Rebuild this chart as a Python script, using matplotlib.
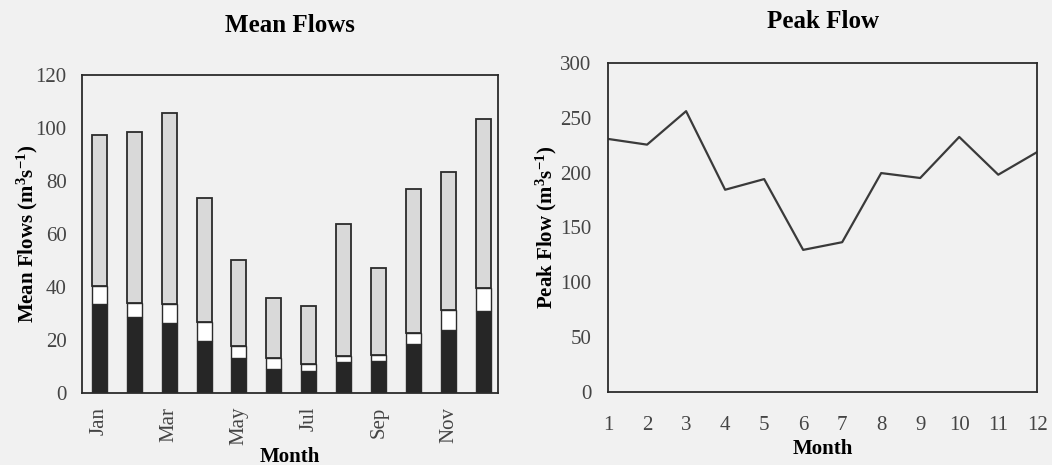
import matplotlib
matplotlib.use("Agg")
import matplotlib.pyplot as plt
import numpy as np

plt.rcParams["font.family"] = ["Liberation Serif", "DejaVu Serif"]
plt.rcParams["mathtext.default"] = "regular"

# 月均流量（三段堆叠）
months = ["Jan", "Feb", "Mar", "Apr", "May", "Jun",
          "Jul", "Aug", "Sep", "Oct", "Nov", "Dec"]
base_flow = [33.4, 28.7, 26.2, 19.5, 13.2, 9.2, 8.3, 11.7, 12.1, 18.4, 23.7, 31.0]
mid_top = [40.3, 33.8, 33.4, 26.6, 17.8, 13.2, 11.1, 13.9, 14.2, 22.7, 31.2, 39.7]
total_flow = [97.3, 98.4, 105.5, 73.4, 50.1, 35.9, 32.7, 63.7, 47.2, 77.0, 83.5, 103.3]

# 峰值流量
peak_month = [1, 2, 3, 4, 5, 6, 7, 8, 9, 10, 11, 12]
peak_flow = [230.6, 225.4, 255.9, 184.3, 194.0, 129.5, 136.5, 199.5, 195.0, 232.4, 198.0, 218.7]

bg = "#f1f1f1"
edge = "#2b2b2b"
tick_col = "#444444"

fig = plt.figure(figsize=(10.52, 4.65), dpi=100, facecolor=bg)

# ---- 左图：Mean Flows ----
ax1 = fig.add_axes([0.078, 0.155, 0.395, 0.684], facecolor=bg)
x = np.arange(len(months))
base = np.array(base_flow)
mid = np.array(mid_top) - base
top = np.array(total_flow) - np.array(mid_top)
w = 0.43
ax1.bar(x, base, width=w, color="#262626", edgecolor=edge, linewidth=1.0)
ax1.bar(x, mid, width=w, bottom=base, color="white", edgecolor=edge, linewidth=1.0)
ax1.bar(x, top, width=w, bottom=np.array(mid_top), color="#d9d9d9",
        edgecolor=edge, linewidth=1.3)
ax1.set_xlim(-0.49, 11.4)
ax1.set_ylim(0, 120)
ax1.set_yticks(range(0, 121, 20))
ax1.set_xticks(x[::2])
ax1.set_xticklabels(months[::2], rotation=90)
ax1.set_title("Mean Flows", fontsize=18, fontweight="bold", pad=31)
ax1.set_xlabel("Month", fontsize=15, fontweight="bold", labelpad=1)
ax1.set_ylabel("Mean Flows (m$^3$s$^{-1}$)", fontsize=15, fontweight="bold", labelpad=-3)
ax1.tick_params(axis="y", length=0, labelsize=15, colors=tick_col, pad=11)
ax1.tick_params(axis="x", length=0, labelsize=15, colors=tick_col, pad=10)

# ---- 右图：Peak Flow ----
ax2 = fig.add_axes([0.578, 0.157, 0.408, 0.708], facecolor=bg)
ax2.plot(peak_month, peak_flow, color="#3a3a3a", linewidth=1.6)
ax2.set_xlim(1, 12)
ax2.set_ylim(0, 300)
ax2.set_yticks(range(0, 301, 50))
ax2.set_xticks(peak_month)
ax2.set_title("Peak Flow", fontsize=18, fontweight="bold", pad=25)
ax2.set_xlabel("Month", fontsize=15, fontweight="bold", labelpad=3)
ax2.set_ylabel("Peak Flow (m$^3$s$^{-1}$)", fontsize=15, fontweight="bold", labelpad=1)
ax2.tick_params(axis="y", length=0, labelsize=15, colors=tick_col, pad=12)
ax2.tick_params(axis="x", length=0, labelsize=15, colors=tick_col, pad=17)

for ax in (ax1, ax2):
    for s in ax.spines.values():
        s.set_color(edge)
        s.set_linewidth(1.3)

fig.savefig("out.png", dpi=100, facecolor=bg)
